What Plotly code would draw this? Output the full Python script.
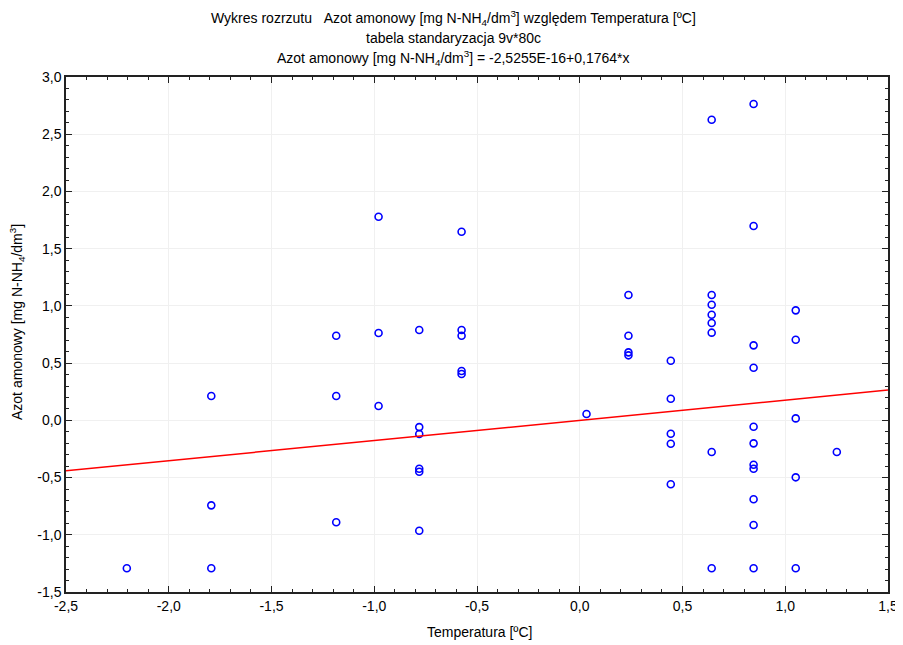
import plotly.graph_objects as go

# Standardized temperature (x) columns and ammonium nitrogen (y) values
temp = ([-2.204] + [-1.793]*3 + [-1.185]*3 + [-0.979]*3 + [-0.781]*6 + [-0.575]*5 +
        [0.033] + [0.237]*4 + [0.443]*5 + [0.642]*8 + [0.846]*11 + [1.051]*5 + [1.251])
azot = ([-1.293] +
        [0.212, -0.743, -1.293] +
        [0.739, 0.212, -0.891] +
        [1.779, 0.763, 0.125] +
        [0.789, -0.059, -0.120, -0.423, -0.449, -0.965] +
        [1.648, 0.789, 0.739, 0.431, 0.405] +
        [0.055] +
        [1.095, 0.739, 0.594, 0.568] +
        [0.521, 0.189, -0.117, -0.204, -0.559] +
        [2.627, 1.095, 1.010, 0.923, 0.850, 0.766, -0.277, -1.293] +
        [2.764, 1.698, 0.655, 0.460, -0.056, -0.201, -0.388, -0.423, -0.690, -0.915, -1.293] +
        [0.961, 0.704, 0.017, -0.498, -1.293] +
        [-0.277])

intercept = -2.5255e-16
slope = 0.1764
line_x = [-2.5, 1.5]
line_y = [intercept + slope * v for v in line_x]

x_range = [-2.5, 1.5]
y_range = [-1.5, 3.0]
x_tickvals = [-2.5, -2.0, -1.5, -1.0, -0.5, 0.0, 0.5, 1.0, 1.5]
x_ticktext = ["-2,5", "-2,0", "-1,5", "-1,0", "-0,5", "0,0", "0,5", "1,0", "1,5"]
y_tickvals = [-1.5, -1.0, -0.5, 0.0, 0.5, 1.0, 1.5, 2.0, 2.5, 3.0]
y_ticktext = ["-1,5", "-1,0", "-0,5", "0,0", "0,5", "1,0", "1,5", "2,0", "2,5", "3,0"]

x_title = "Temperatura [ºC]"
y_title = "Azot amonowy [mg N-NH<sub>4</sub>/dm<sup>3</sup>]"
title_lines = [
    "Wykres rozrzutu&nbsp;&nbsp;&nbsp;Azot amonowy [mg N-NH<sub>4</sub>/dm<sup>3</sup>] względem Temperatura [ºC]",
    "tabela standaryzacja 9v*80c",
    "Azot amonowy [mg N-NH<sub>4</sub>/dm<sup>3</sup>] = -2,5255E-16+0,1764*x",
]

# page body has an 8px margin, so the figure is placed at (8, 8)
OFF = 8
W, H = 903 - OFF, 645 - OFF
ML, MT = 66 - OFF, 77 - OFF
MR, MB = W - (888 - OFF), H - (592 - OFF)
PW, PH = W - ML - MR, H - MT - MB

fig = go.Figure()
fig.add_trace(go.Scatter(x=temp, y=azot, mode="markers",
                         marker=dict(symbol="circle-open", size=7, color="#0000ff",
                                     line=dict(width=1.6, color="#0000ff")),
                         showlegend=False))
fig.add_trace(go.Scatter(x=line_x, y=line_y, mode="lines",
                         line=dict(color="#ff0000", width=1.5), showlegend=False))

font = "Liberation Sans, Arial, sans-serif"
FS = 14
axis_common = dict(showline=True, linecolor="#222", linewidth=1.5, mirror="allticks",
                   ticks="inside", ticklen=6, tickwidth=1, tickcolor="#222",
                   showgrid=True, gridcolor="#f0f0f0", gridwidth=1, zeroline=False,
                   automargin=False,
                   tickfont=dict(family=font, size=FS, color="#000"),
                   minor=dict(ticks="inside", ticklen=3, tickwidth=1, tickcolor="#222",
                              dtick=0.1, showgrid=False))

fig.update_layout(
    width=W, height=H,
    margin=dict(l=ML, r=MR, t=MT, b=MB, autoexpand=False),
    paper_bgcolor="white", plot_bgcolor="white",
    font=dict(family=font, size=FS, color="#000"),
    xaxis=dict(range=x_range, tickmode="array", tickvals=x_tickvals, ticktext=x_ticktext,
               **axis_common),
    yaxis=dict(range=y_range, tickmode="array", tickvals=y_tickvals, ticktext=y_ticktext,
               **axis_common),
)

def px_x(px):
    return (px - OFF - ML) / PW

def px_y(py):
    return (H - MB - (py - OFF)) / PH

for txt, ypx in zip(title_lines, [18, 38, 58]):
    fig.add_annotation(text=txt, xref="paper", yref="paper", x=px_x(453),
                       y=px_y(ypx), xanchor="center", yanchor="middle",
                       showarrow=False, font=dict(family=font, size=FS, color="#000"))

fig.add_annotation(text=x_title, xref="paper", yref="paper", x=px_x(480), y=px_y(632),
                   xanchor="center", yanchor="middle", showarrow=False,
                   font=dict(family=font, size=FS, color="#000"))
fig.add_annotation(text=y_title, xref="paper", yref="paper", x=px_x(17), y=px_y(322),
                   xanchor="center", yanchor="middle", showarrow=False, textangle=-90,
                   font=dict(family=font, size=FS, color="#000"))

fig.write_html("out.html")
